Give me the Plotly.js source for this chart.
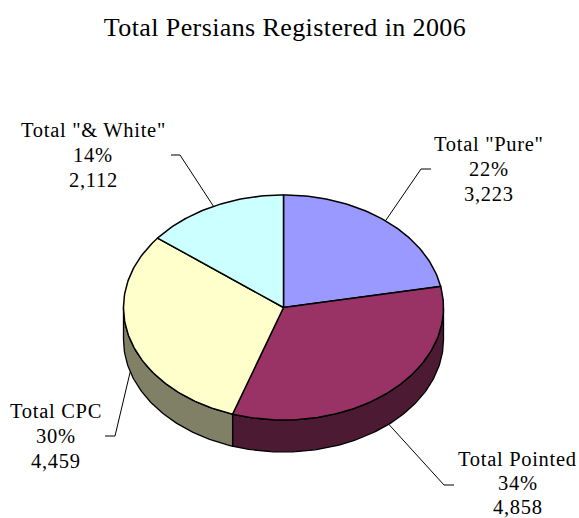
<!DOCTYPE html>
<html><head><meta charset="utf-8">
<script src="https://cdn.plot.ly/plotly-3.0.1.min.js"></script>
<style>html,body{margin:0;padding:0;background:#fff}#c{width:579px;height:518px}
.annotation-text{letter-spacing:0.7px}.gtitle{letter-spacing:0.4px}</style>
</head><body><div id="c"></div>
<script>
var categories = ['Total "Pure"', 'Total Pointed', 'Total CPC', 'Total "& White"'];
var values = [3223, 4858, 4459, 2112];
var percentLabels = ['22%', '34%', '30%', '14%'];
var valueLabels = ['3,223', '4,858', '4,459', '2,112'];
var topColors = ['#9999FF', '#993366', '#FFFFCC', '#CCFFFF'];
var sideColors = ['#4D4D80', '#4D1A33', '#808066', '#668080'];

var cx = 283.5, cy = 307.5, rx = 160, ry = 112.5, depth = 32;
var labelX = [488.5, 517.5, 56, 93], labelY = [169, 483, 436, 155], linePitch = [25, 24, 25, 25];
var elbows = [[[421, 169], [431, 169]], [[444, 485], [454, 485]], [[115, 436], [105, 436]], [[180, 155], [171, 155]]];

function pt(deg, dy) {
  var a = deg * Math.PI / 180;
  return [cx + rx * Math.sin(a), cy - ry * Math.cos(a) + (dy || 0)];
}
function arc(a0, a1, dy) {
  var out = [], n = Math.max(2, Math.ceil(Math.abs(a1 - a0)));
  for (var i = 0; i <= n; i++) out.push(pt(a0 + (a1 - a0) * i / n, dy));
  return out;
}
var total = values.reduce(function (s, v) { return s + v; }, 0);
var traces = [], annotations = [], start = 0;
var spans = values.map(function (v) {
  var s = [start, start + v / total * 360]; start = s[1]; return s;
});
function poly(points, color, name, lw) {
  return { type: 'scatter', mode: 'lines', fill: 'toself', fillcolor: color,
    x: points.map(function (p) { return p[0]; }), y: points.map(function (p) { return p[1]; }),
    line: { color: '#000', width: lw, shape: 'linear' }, name: name,
    hoverinfo: 'name', showlegend: false };
}
spans.forEach(function (s, i) {
  var a0 = Math.max(s[0], 90), a1 = Math.min(s[1], 270);
  if (a1 > a0) {
    var pts = arc(a0, a1, 0).concat(arc(a1, a0, depth));
    pts.push(pts[0]);
    traces.push(poly(pts, sideColors[i], categories[i], 1.3));
  }
});
spans.forEach(function (s, i) {
  var pts = [[cx, cy]].concat(arc(s[0], s[1], 0));
  pts.push([cx, cy]);
  traces.push(poly(pts, topColors[i], categories[i], 1.5));
});
spans.forEach(function (s, i) {
  var mid = (s[0] + s[1]) / 2;
  var front = mid > 90 && mid < 270;
  var p = pt(mid, front ? depth : 0);
  var pts = [p].concat(elbows[i]);
  traces.push({ type: 'scatter', mode: 'lines', x: pts.map(function (q) { return q[0]; }),
    y: pts.map(function (q) { return q[1]; }), line: { color: '#000', width: 1 },
    hoverinfo: 'skip', showlegend: false });
  [categories[i], percentLabels[i], valueLabels[i]].forEach(function (line, k) {
    annotations.push({ xref: 'x', yref: 'y', x: labelX[i], y: labelY[i] + (k - 1) * linePitch[i],
      xanchor: 'center', yanchor: 'middle', showarrow: false, align: 'center', text: line,
      font: { family: 'Liberation Serif', size: 20.5, color: '#000' } });
  });
});
var layout = {
  width: 579, height: 518, margin: { l: 0, r: 0, t: 0, b: 0 },
  paper_bgcolor: '#fff', plot_bgcolor: '#fff', showlegend: false,
  title: { text: 'Total Persians Registered in 2006', x: 285 / 579, xanchor: 'center', y: 1 - 27 / 518, yanchor: 'middle',
    font: { family: 'Liberation Serif', size: 26, color: '#000' } },
  xaxis: { range: [0, 579], visible: false, fixedrange: true },
  yaxis: { range: [518, 0], visible: false, fixedrange: true },
  annotations: annotations
};
Plotly.newPlot('c', traces, layout, { displayModeBar: false, staticPlot: true });
</script></body></html>
